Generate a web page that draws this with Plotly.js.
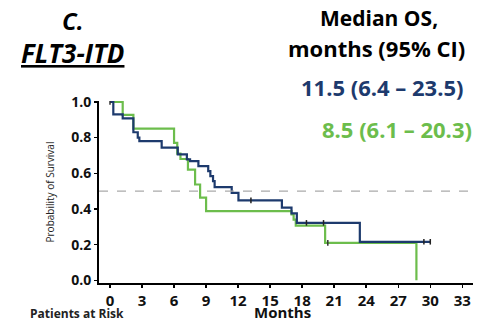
<!DOCTYPE html>
<html>
<head>
<meta charset="utf-8">
<script src="https://cdn.plot.ly/plotly-3.0.1.min.js"></script>
<style>html,body{margin:0;padding:0;background:#fff;}#chart{width:501px;height:324px;}</style>
</head>
<body>
<div id="chart"></div>
<script>
// Blue curve (median OS 11.5)
const blueMonths = [0, 0.31, 1.19, 2.19, 2.6, 2.75, 4.84, 6.35, 7.2, 7.5, 8.28, 9.2, 9.4, 9.65, 9.8, 11.4, 12.03, 16.1, 17.0, 17.5, 23.4, 30.0];
const blueSurv   = [1.0, 0.93, 0.908, 0.83, 0.80, 0.78, 0.744, 0.706, 0.678, 0.668, 0.64, 0.612, 0.584, 0.556, 0.522, 0.49, 0.448, 0.407, 0.375, 0.322, 0.216, 0.216];
const blueCensorMonths = [13.2, 18.4, 20.0, 29.4, 30.0];
const blueCensorSurv   = [0.448, 0.322, 0.322, 0.216, 0.216];
// Green curve (median OS 8.5)
const greenMonths = [0, 1.19, 2.19, 6.0, 6.3, 6.6, 7.3, 7.97, 8.44, 9.0, 17.0, 17.2, 17.4, 20.15, 28.7];
const greenSurv   = [1.0, 0.927, 0.85, 0.77, 0.71, 0.68, 0.62, 0.537, 0.463, 0.388, 0.369, 0.34, 0.307, 0.21, 0.0];
const greenCensorMonths = [0, 20.4];
const greenCensorSurv   = [1.0, 0.21];
const xTicks = [0, 3, 6, 9, 12, 15, 18, 21, 24, 27, 30, 33];
const yTicks = [0, 0.2, 0.4, 0.6, 0.8, 1.0];
const yTickText = ['0.0', '0.2', '0.4', '0.6', '0.8', '1.0'];

const BLUE = '#1d3a6d', GREEN = '#6cbd4c';
const F = '"Open Sans", sans-serif';

const traces = [
  {x: greenMonths, y: greenSurv, mode: 'lines', line: {shape: 'hv', color: GREEN, width: 2.2}, hoverinfo: 'skip'},
  {x: blueMonths, y: blueSurv, mode: 'lines', line: {shape: 'hv', color: BLUE, width: 2.2}, hoverinfo: 'skip'},
  {x: greenCensorMonths, y: greenCensorSurv, mode: 'markers', marker: {symbol: 'line-ns', size: 4, line: {width: 1.5, color: '#333'}}, hoverinfo: 'skip'},
  {x: blueCensorMonths, y: blueCensorSurv, mode: 'markers', marker: {symbol: 'line-ns', size: 4, line: {width: 1.5, color: '#222'}}, hoverinfo: 'skip'}
];

const layout = {
  width: 501, height: 324,
  margin: {l: 99, r: 28, t: 101, b: 41},
  paper_bgcolor: '#fff', plot_bgcolor: '#fff',
  showlegend: false,
  font: {family: F, color: '#111'},
  xaxis: {
    range: [-1.03, 34], tickvals: xTicks, ticktext: xTicks.map(String),
    showline: true, linecolor: '#000', linewidth: 2, zeroline: false, showgrid: false,
    ticks: 'outside', ticklen: 3, tickwidth: 1.5, tickcolor: '#000',
    tickfont: {family: F, size: 15, weight: 'bold', color: '#111'}
  },
  yaxis: {
    range: [-0.015, 1.005], tickvals: yTicks, ticktext: yTickText,
    showline: true, linecolor: '#000', linewidth: 2, zeroline: false, showgrid: false,
    ticks: 'outside', ticklen: 3, tickwidth: 1.5, tickcolor: '#000',
    tickfont: {family: F, size: 14, weight: 'bold', color: '#111'},
    title: {text: 'Probability of Survival', font: {family: F, size: 10, color: '#222'}, standoff: 15}
  },
  shapes: [
    {type: 'line', xref: 'paper', x0: 0, x1: 1, yref: 'y', y0: 0.5, y1: 0.5, line: {color: '#aaa', width: 1.2, dash: 'dash'}}
  ],
  annotations: [
    {text: '<b><i>C.</i></b>', xref: 'paper', yref: 'paper', x: -0.069, y: 1.44, xanchor: 'center', yanchor: 'middle', showarrow: false, font: {family: F, size: 24, color: '#000'}},
    {text: '<b><i><u>FLT3-ITD</u></i></b>', xref: 'paper', yref: 'paper', x: -0.071, y: 1.264, xanchor: 'center', yanchor: 'middle', showarrow: false, font: {family: F, size: 26, color: '#000'}},
    {text: '<b>Median OS,</b>', xref: 'paper', yref: 'paper', x: 0.749, y: 1.456, xanchor: 'center', yanchor: 'middle', showarrow: false, font: {family: F, size: 21, color: '#000'}},
    {text: '<b>months (95% CI)</b>', xref: 'paper', yref: 'paper', x: 0.743, y: 1.291, xanchor: 'center', yanchor: 'middle', showarrow: false, font: {family: F, size: 22, color: '#000'}},
    {text: '<b>11.5 (6.4 – 23.5)</b>', xref: 'paper', yref: 'paper', x: 0.757, y: 1.077, xanchor: 'center', yanchor: 'middle', showarrow: false, font: {family: F, size: 22, color: BLUE}},
    {text: '<b>8.5 (6.1 – 20.3)</b>', xref: 'paper', yref: 'paper', x: 0.797, y: 0.846, xanchor: 'center', yanchor: 'middle', showarrow: false, font: {family: F, size: 22, color: GREEN}},
    {text: '<b>Months</b>', xref: 'paper', yref: 'paper', x: 0.49, y: -0.162, xanchor: 'center', yanchor: 'middle', showarrow: false, font: {family: F, size: 15, color: '#111'}},
    {text: '<b>Patients at Risk</b>', xref: 'paper', yref: 'paper', x: -0.059, y: -0.165, xanchor: 'center', yanchor: 'middle', showarrow: false, font: {family: F, size: 12, color: '#222'}}
  ]
};

Plotly.newPlot('chart', traces, layout, {displayModeBar: false, staticPlot: true});
</script>
</body>
</html>
